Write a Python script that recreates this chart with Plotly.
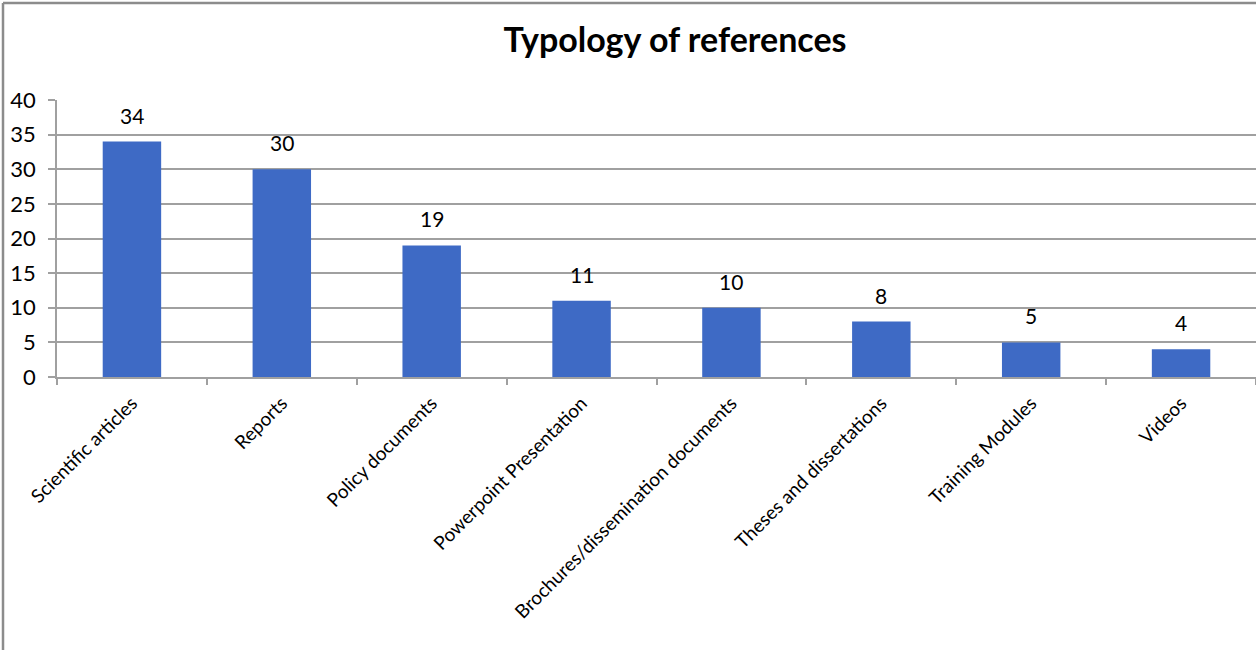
import plotly.graph_objects as go

categories = ["Scientific articles", "Reports", "Policy documents", "Powerpoint Presentation",
              "Brochures/dissemination documents", "Theses and dissertations",
              "Training Modules", "Videos"]
values = [34, 30, 19, 11, 10, 8, 5, 4]
y_ticks = [0, 5, 10, 15, 20, 25, 30, 35, 40]

FONT = "Lato, Carlito, 'Liberation Sans', sans-serif"

fig = go.Figure()
fig.add_trace(go.Bar(
    x=categories, y=values,
    marker=dict(color="#3E6AC5", line=dict(width=0)),
    width=0.39,
    hoverinfo="x+y",
))

for c, v in zip(categories, values):
    fig.add_annotation(x=c, y=v, text=str(v), showarrow=False, yanchor="bottom",
                       yshift=12, font=dict(family=FONT, size=21, color="#000000"))

L = 57
W = 1256 - L
fig.update_layout(
    width=1256, height=650,
    paper_bgcolor="white", plot_bgcolor="white",
    margin=dict(l=L, r=0, t=100, b=273),
    showlegend=False,
    bargap=0.61,
    title=dict(text="<b>Typology of references</b>", x=675/1256, xanchor="center",
               y=1 - 40/650, yanchor="middle", xref="container", yref="container",
               font=dict(family=FONT, size=34, color="#000000")),
    xaxis=dict(
        type="category", tickangle=-45, tickson="boundaries",
        ticks="outside", ticklen=6, tickcolor="#A0A0A0", tickwidth=1.5,
        showline=True, linecolor="#A0A0A0", linewidth=1.5,
        showgrid=False,
        ticklabelstandoff=6,
        tickfont=dict(family=FONT, size=19, color="#000000"),
    ),
    yaxis=dict(
        range=[0, 40], tickvals=y_ticks, ticktext=[str(t) for t in y_ticks],
        ticks="outside", ticklen=7, tickcolor="#A0A0A0", tickwidth=1.5,
        showline=True, linecolor="#A0A0A0", linewidth=1.5,
        showgrid=True, gridcolor="#A0A0A0", gridwidth=1.5,
        zeroline=False,
        ticklabelstandoff=8,
        tickfont=dict(family=FONT, size=22, color="#000000"),
    ),
)

# outer chart frame (top and left edges visible in reference)
fx = (3 - L) / W
fy = 1 + 97 / 277
fig.add_shape(type="line", xref="paper", yref="paper",
              x0=fx, x1=1.01, y0=fy, y1=fy,
              line=dict(color="#8C8C8C", width=2.5))
fig.add_shape(type="line", xref="paper", yref="paper",
              x0=fx, x1=fx, y0=fy, y1=-1.0,
              line=dict(color="#8C8C8C", width=2.5))

fig.write_html("out.html", config={"displayModeBar": False},
               post_script="document.body.style.margin='0px';document.body.style.overflow='hidden';")
